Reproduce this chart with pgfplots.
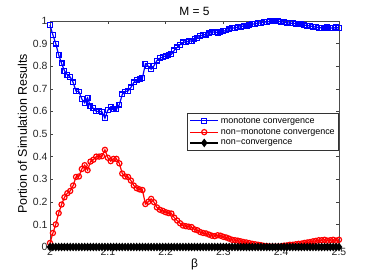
\documentclass[border=0pt]{standalone}
\usepackage{pgfplots}
\pgfplotsset{compat=1.18}
\usepackage{pgfplotstable}
\usepackage{fontspec}
\setmainfont{Liberation Sans}
\pgfplotstableread{
x m n
2.000 0.982 0.018
2.005 0.938 0.062
2.010 0.900 0.100
2.015 0.850 0.150
2.020 0.812 0.188
2.025 0.780 0.220
2.030 0.762 0.238
2.035 0.752 0.248
2.040 0.728 0.272
2.045 0.690 0.310
2.050 0.688 0.312
2.055 0.655 0.345
2.060 0.638 0.362
2.065 0.660 0.340
2.070 0.622 0.378
2.075 0.614 0.386
2.080 0.600 0.400
2.085 0.600 0.400
2.090 0.598 0.402
2.095 0.570 0.430
2.100 0.605 0.395
2.105 0.620 0.380
2.110 0.610 0.390
2.115 0.610 0.390
2.120 0.630 0.370
2.125 0.675 0.325
2.130 0.688 0.312
2.135 0.690 0.310
2.140 0.706 0.294
2.145 0.728 0.272
2.150 0.740 0.260
2.155 0.745 0.255
2.160 0.748 0.252
2.165 0.810 0.190
2.170 0.800 0.200
2.175 0.787 0.213
2.180 0.802 0.198
2.185 0.825 0.175
2.190 0.835 0.165
2.195 0.840 0.160
2.200 0.846 0.154
2.205 0.850 0.150
2.210 0.852 0.148
2.215 0.870 0.130
2.220 0.883 0.117
2.225 0.895 0.105
2.230 0.905 0.095
2.235 0.908 0.092
2.240 0.910 0.090
2.245 0.912 0.088
2.250 0.922 0.078
2.255 0.926 0.074
2.260 0.934 0.066
2.265 0.938 0.062
2.270 0.940 0.060
2.275 0.945 0.055
2.280 0.950 0.050
2.285 0.952 0.048
2.290 0.948 0.052
2.295 0.950 0.050
2.300 0.955 0.045
2.305 0.958 0.042
2.310 0.963 0.037
2.315 0.968 0.032
2.320 0.970 0.030
2.325 0.972 0.028
2.330 0.975 0.025
2.335 0.978 0.022
2.340 0.980 0.020
2.345 0.983 0.017
2.350 0.986 0.014
2.355 0.988 0.012
2.360 0.990 0.010
2.365 0.992 0.008
2.370 0.995 0.005
2.375 0.996 0.004
2.380 0.998 0.002
2.385 0.998 0.002
2.390 0.998 0.002
2.395 0.998 0.002
2.400 0.997 0.003
2.405 0.994 0.006
2.410 0.993 0.007
2.415 0.990 0.010
2.420 0.990 0.010
2.425 0.988 0.012
2.430 0.986 0.014
2.435 0.985 0.015
2.440 0.982 0.018
2.445 0.980 0.020
2.450 0.978 0.022
2.455 0.975 0.025
2.460 0.973 0.027
2.465 0.970 0.030
2.470 0.970 0.030
2.475 0.968 0.032
2.480 0.972 0.028
2.485 0.970 0.030
2.490 0.968 0.032
2.495 0.972 0.028
2.500 0.968 0.032
}\datatable
\begin{document}
\begin{tikzpicture}
\begin{axis}[
  at={(0,0)}, anchor=south west,
  scale only axis, width=289bp, height=226bp,
  xmin=2, xmax=2.5, ymin=0, ymax=1,
  xtick={2,2.1,2.2,2.3,2.4,2.5},
  ytick={0,0.1,0.2,0.3,0.4,0.5,0.6,0.7,0.8,0.9,1},
  xticklabels={2,2.1,2.2,2.3,2.4,2.5},
  yticklabels={0,0.1,0.2,0.3,0.4,0.5,0.6,0.7,0.8,0.9,1},
  tick align=inside, major tick length=3bp,
  tick style={black!75, line width=0.4pt},
  axis line style={black!70, line width=0.5pt},
  tick label style={font=\fontsize{10.5}{11}\selectfont, text=black!85},
  xticklabel style={yshift=2bp},
  yticklabel style={xshift=1bp},
  title={M = 5}, title style={font=\fontsize{12}{13}\selectfont, yshift=-4bp},
  xlabel={β}, xlabel style={font=\fontsize{12}{13}\selectfont, yshift=4bp},
  ylabel={Portion of Simulation Results}, ylabel style={font=\fontsize{12.5}{13}\selectfont, yshift=-1bp},
  legend style={at={(1,0.593)}, anchor=north east, font=\fontsize{9}{10}\selectfont,
    draw=black!80, line width=0.5pt, inner xsep=2pt, inner ysep=2pt, row sep=0pt,
    cells={anchor=west}},
  legend cell align=left,
  legend image code/.code={\draw[#1, mark repeat=2, mark phase=2] plot coordinates {(0bp,0bp) (14bp,0bp) (28bp,0bp)};},
  clip=false,
]
\addplot[blue, line width=1.2pt, mark=square, mark size=2.4pt, mark options={solid, line width=1.2pt}] table[x=x, y=m] {\datatable};
\addlegendentry{monotone convergence}
\addplot[red, line width=1.2pt, mark=o, mark size=2.6pt, mark options={solid, line width=1.2pt}] table[x=x, y=n] {\datatable};
\addlegendentry{non−monotone convergence}
\addplot[black, line width=1.2pt, mark=diamond*, mark size=3.4pt, mark options={solid, line width=1.2pt}] table[x=x, y expr=0] {\datatable};
\addlegendentry{non−convergence}
\end{axis}
\pgfresetboundingbox
\path (-50bp,-31bp) rectangle (324bp,247bp);
\end{tikzpicture}
\end{document}
